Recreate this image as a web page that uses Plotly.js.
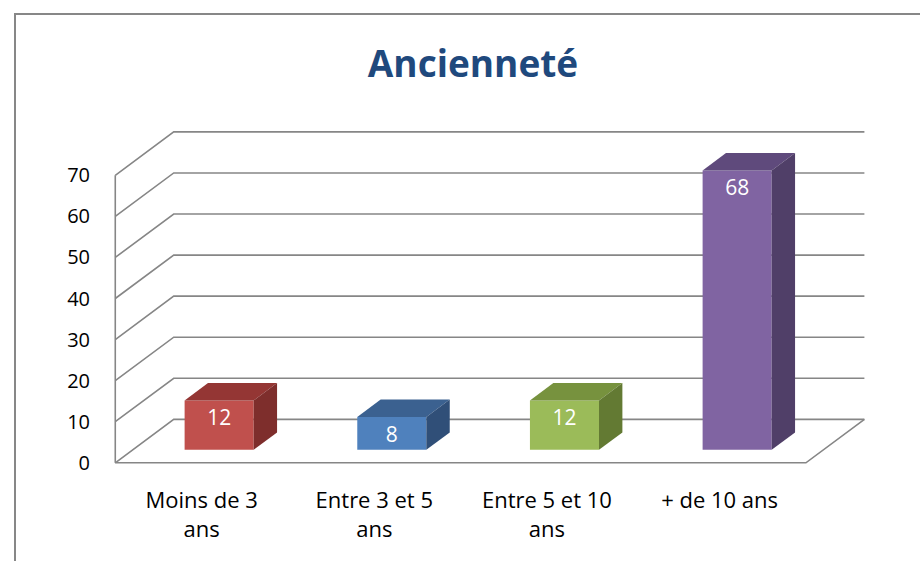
<!DOCTYPE html>
<html>
<head>
<meta charset="utf-8">
<script src="https://cdn.plot.ly/plotly-3.0.1.min.js"></script>
<style>html,body{margin:0;padding:0;background:#fff;}#chart{width:920px;height:561px;}</style>
</head>
<body>
<div id="chart"></div>
<script>
// ---- data ----
const categories = ['Moins de 3<br>ans', 'Entre 3 et 5<br>ans', 'Entre 5 et 10<br>ans', '+ de 10 ans'];
const values = [12, 8, 12, 68];
const yTicks = [0, 10, 20, 30, 40, 50, 60, 70];
const frontColors = ['#C0504D', '#4F81BD', '#9BBB59', '#8064A2'];
const topColors = ['#943634', '#3B6190', '#77923E', '#5F4A7C'];
const sideColors = ['#7E2E2C', '#304F78', '#637A33', '#503F68'];

// ---- 3D projection geometry (depth offset in axis units) ----
const DX = 0.3386, DY = 10.57;   // full depth offset
const FZ = 0.3, BD = 0.4, BW = 0.4; // bar front depth, bar depth, bar width
const W = 920, H = 561;
const M = {l: 98, r: 45, t: 126, b: 90};
const xr = [-0.6, 3.9], yr = [-2, 82];
const GRID = '#868686';

const xs = values.map((v, i) => i + FZ * DX);
const shapes = [];

// back-wall gridlines with diagonal left-wall lines
const xL = -0.5, xR = categories.length - 0.5;
yTicks.forEach(v => {
  shapes.push({type: 'path', layer: 'below', xref: 'x', yref: 'y',
    path: `M ${xL},${v} L ${xL + DX},${v + DY} L ${xR + DX},${v + DY}`,
    line: {color: GRID, width: 1.6}});
});
// front left axis
shapes.push({type: 'line', layer: 'below', xref: 'x', yref: 'y', x0: xL, x1: xL, y0: 0, y1: yTicks[yTicks.length - 1],
  line: {color: GRID, width: 1.6}});
// floor front edge and right diagonal
shapes.push({type: 'path', layer: 'below', xref: 'x', yref: 'y',
  path: `M ${xL},0 L ${xR},0 L ${xR + DX},${DY}`, line: {color: GRID, width: 1.6}});

// bar top and side faces
values.forEach((v, i) => {
  const x0 = xs[i] - BW / 2, x1 = xs[i] + BW / 2;
  const b = FZ * DY, t = FZ * DY + v;
  const ox = BD * DX, oy = BD * DY;
  shapes.push({type: 'path', layer: 'above', xref: 'x', yref: 'y',
    path: `M ${x0},${t} L ${x1},${t} L ${x1 + ox},${t + oy} L ${x0 + ox},${t + oy} Z`,
    fillcolor: topColors[i], line: {width: 0}});
  shapes.push({type: 'path', layer: 'above', xref: 'x', yref: 'y',
    path: `M ${x1},${b} L ${x1 + ox},${b + oy} L ${x1 + ox},${t + oy} L ${x1},${t} Z`,
    fillcolor: sideColors[i], line: {width: 0}});
});

// outer chart border (in paper coords computed from pixels)
const pw = W - M.l - M.r, ph = H - M.t - M.b;
const px = p => (p - M.l) / pw, py = p => (H - M.b - p) / ph;
shapes.push({type: 'path', xref: 'paper', yref: 'paper', layer: 'above',
  path: `M ${px(15)},${py(570)} L ${px(15)},${py(14)} L ${px(930)},${py(14)}`,
  line: {color: '#878787', width: 2}});

const FONT = "'Open Sans', sans-serif";

const trace = {
  type: 'bar', x: xs, y: values, base: FZ * DY, width: BW,
  marker: {color: frontColors, line: {width: 0}},
  text: values.map(String), textposition: 'inside', insidetextanchor: 'end', constraintext: 'none', textangle: 0,
  textfont: {color: '#ffffff', size: 21, family: FONT},
  hoverinfo: 'none', cliponaxis: false
};

const layout = {
  width: W, height: H, margin: M,
  paper_bgcolor: '#ffffff', plot_bgcolor: 'rgba(0,0,0,0)',
  showlegend: false,
  title: {text: '<b>Ancienneté</b>', x: 473 / W, xanchor: 'center', y: 1 - 64 / H, yanchor: 'middle',
    font: {family: FONT, size: 37, color: '#1F497D'}},
  xaxis: {range: xr, tickvals: [0, 1, 2, 3], ticktext: categories, showgrid: false, zeroline: false,
    showline: false, ticks: '', ticklabelstandoff: 14, tickfont: {family: FONT, size: 22, color: '#000'}},
  yaxis: {range: yr, tickvals: yTicks, showgrid: false, zeroline: false, showline: false, ticks: '',
    ticklabelstandoff: 7, tickfont: {family: FONT, size: 20, color: '#000'}},
  shapes: shapes
};

Plotly.newPlot('chart', [trace], layout, {staticPlot: true});
</script>
</body>
</html>
